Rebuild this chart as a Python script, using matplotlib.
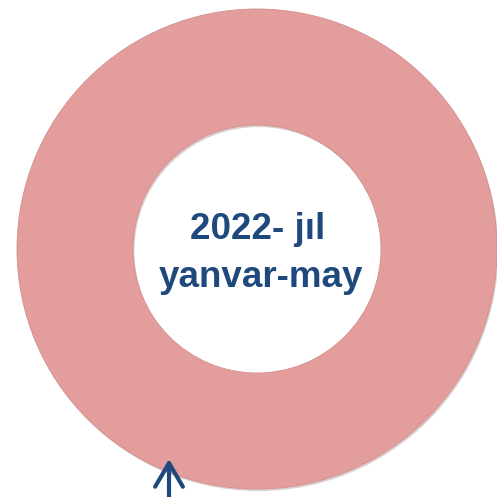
"""Single-ring donut with period label and pointer arrow."""

import matplotlib

matplotlib.use("Agg")
import matplotlib.pyplot as plt  # noqa: E402
import matplotlib.patheffects as pe  # noqa: E402

# data
shares = [100.0]
ring_colors = ["#E39D9D"]
center_lines = ["2022- jıl", "yanvar-may"]

TEXT_BLUE = "#1F497D"

fig = plt.figure(figsize=(4.97, 4.97), dpi=100)
ax = fig.add_axes([0, 0, 1, 1])

wedges, _ = ax.pie(
    shares,
    colors=ring_colors,
    center=(257, 249),
    radius=240,
    startangle=90,
    counterclock=False,
    wedgeprops=dict(width=116, edgecolor="#D38E8E", linewidth=0.6),
    frame=True,
)
for w in wedges:
    w.set_path_effects([
        pe.SimplePatchShadow(offset=(1, -1.5), shadow_rgbFace="#8a6060", alpha=0.3),
        pe.Normal(),
    ])
ax.set_xlim(0, 497)
ax.set_ylim(497, 0)
ax.set_aspect("equal")
ax.axis("off")

ax.text(258, 239, center_lines[0], ha="center", va="baseline",
        fontsize=26.5, fontweight="bold", color=TEXT_BLUE, family="Liberation Sans")
ax.text(261, 287, center_lines[1], ha="center", va="baseline",
        fontsize=26.5, fontweight="bold", color=TEXT_BLUE, family="Liberation Sans")

ax.annotate("", xy=(169, 459), xytext=(169, 500),
            arrowprops=dict(arrowstyle="->,head_length=0.85,head_width=0.5",
                            mutation_scale=20, lw=3, color=TEXT_BLUE,
                            shrinkA=0, shrinkB=0),
            annotation_clip=False)

fig.savefig("out.png", dpi=100)
plt.close(fig)
